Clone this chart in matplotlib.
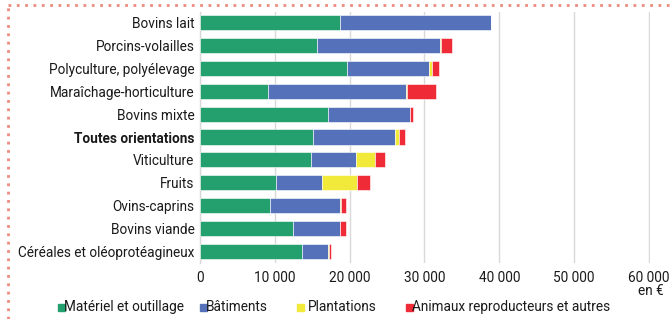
import matplotlib
matplotlib.use("Agg")
import matplotlib.pyplot as plt
from matplotlib.patches import Rectangle
from matplotlib.lines import Line2D
from matplotlib import font_manager

names = {f.name for f in font_manager.fontManager.ttflist}
fam = ["Liberation Sans Narrow"] if "Liberation Sans Narrow" in names else ["Roboto"]
plt.rcParams['font.family'] = fam + ["DejaVu Sans"]

categories = ["Bovins lait", "Porcins-volailles", "Polyculture, polyélevage",
              "Maraîchage-horticulture", "Bovins mixte", "Toutes orientations",
              "Viticulture", "Fruits", "Ovins-caprins", "Bovins viande",
              "Céréales et oléoprotéagineux"]
materiel = [18650, 15650, 19700, 9100, 17100, 15150, 14900, 10200, 9350, 12450, 13600]
batiments = [20250, 16450, 10850, 18450, 10950, 10950, 5900, 6050, 9400, 6200, 3450]
plantations = [0, 100, 500, 100, 0, 550, 2550, 4800, 120, 0, 130]
animaux = [0, 1500, 900, 3950, 400, 750, 1400, 1650, 700, 900, 350]
series_names = ["Matériel et outillage", "Bâtiments", "Plantations",
                "Animaux reproducteurs et autres"]
colors = ["#24A06F", "#5571B9", "#F2EA3A", "#EE2B36"]
xticks = [0, 10000, 20000, 30000, 40000, 50000, 60000]
xticklabels = ["0", "10 000", "20 000", "30 000", "40 000", "50 000", "60 000"]

W, H = 670, 319
fs = 9.8
fig = plt.figure(figsize=(W / 100, H / 100), dpi=100)
ax = fig.add_axes([200 / W, 1 - 262.5 / H, 450 / W, 251 / H])

ys = list(range(len(categories)))
left = [0] * len(categories)
for vals, col in zip([materiel, batiments, plantations, animaux], colors):
    ax.barh(ys, vals, left=left, height=0.66, color=col, edgecolor="white",
            linewidth=0.4, zorder=3)
    left = [a + b for a, b in zip(left, vals)]

ax.set_ylim(len(categories) - 0.5, -0.5)
ax.set_xlim(0, 60150)
ax.set_yticks(ys)
ax.set_yticklabels(categories, fontsize=fs, color="#1a1a1a")
for lab in ax.get_yticklabels():
    if lab.get_text() == "Toutes orientations":
        lab.set_fontweight("bold")
ax.set_xticks(xticks)
ax.set_xticklabels(xticklabels, fontsize=fs, color="#1a1a1a")
ax.tick_params(length=0, pad=4)
ax.tick_params(axis="x", pad=6)
ax.grid(axis="x", color="#d9d9d9", linewidth=1, zorder=0)
for s in ["top", "right", "bottom"]:
    ax.spines[s].set_visible(False)
ax.spines["left"].set_color("#d9d9d9")
ax.spines["left"].set_linewidth(1)

fig.text(664 / W, 1 - 291 / H, "en €", ha="right", va="center", fontsize=fs,
         color="#1a1a1a")

# legend
leg_sq = [58, 200, 297, 406]
leg_tx = [64, 206, 308, 412]
for sx, tx, col, name in zip(leg_sq, leg_tx, colors, series_names):
    fig.patches.append(Rectangle((sx / W, 1 - 311 / H), 7 / W, 7 / H,
                                 transform=fig.transFigure, color=col))
    fig.text(tx / W, 1 - 307 / H, name, ha="left", va="center", fontsize=fs,
             color="#1a1a1a")

# dotted frame
fig.add_artist(Line2D([8 / W, 1], [1 - 5 / H, 1 - 5 / H], transform=fig.transFigure,
                      color="#F08A7E", linestyle=(0, (1, 2)), linewidth=2))
fig.add_artist(Line2D([8 / W, 8 / W], [0, 1 - 5 / H], transform=fig.transFigure,
                      color="#F08A7E", linestyle=(0, (1, 2)), linewidth=2))

fig.savefig("out.png", dpi=100)
